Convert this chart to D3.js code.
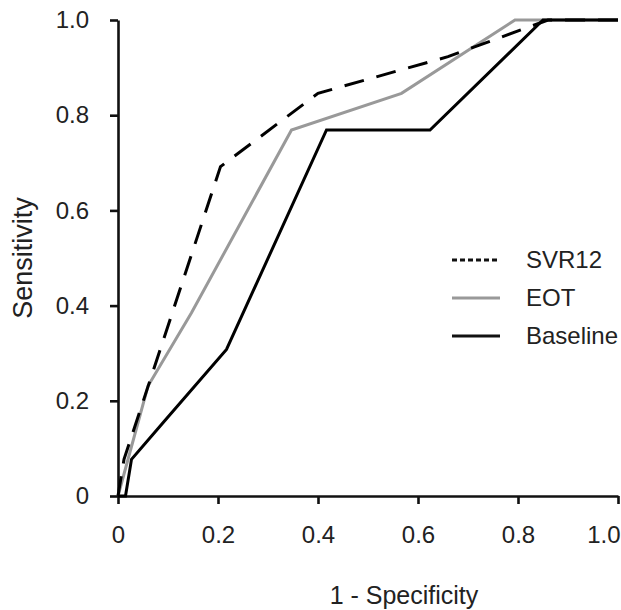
<!DOCTYPE html>
<html>
<head>
<meta charset="utf-8">
<script src="https://cdn.jsdelivr.net/npm/d3@7"></script>
<style>
  html, body { margin: 0; padding: 0; background: #fff; }
  svg { display: block; }
  text { font-family: "Liberation Sans", Arial, sans-serif; fill: #222; }
</style>
</head>
<body>
<svg id="chart" width="621" height="610"></svg>
<script>
// ---- data ----
const xTicks = [0, 0.2, 0.4, 0.6, 0.8, 1.0];
const yTicks = [0, 0.2, 0.4, 0.6, 0.8, 1.0];
const tickLabels = ["0", "0.2", "0.4", "0.6", "0.8", "1.0"];

const svrFpr = [0, 0.012, 0.205, 0.40, 0.66, 0.86, 1.0];
const svrTpr = [0, 0.077, 0.692, 0.846, 0.923, 1.0, 1.0];

const eotFpr = [0, 0.06, 0.147, 0.347, 0.567, 0.794, 1.0];
const eotTpr = [0, 0.231, 0.385, 0.769, 0.846, 1.0, 1.0];

const baseFpr = [0, 0.015, 0.027, 0.09, 0.217, 0.417, 0.624, 0.85, 1.0];
const baseTpr = [0, 0, 0.077, 0.154, 0.308, 0.769, 0.769, 1.0, 1.0];

const seriesNames = ["SVR12", "EOT", "Baseline"];

// ---- layout ----
const svg = d3.select("#chart");
const x = d3.scaleLinear().domain([0, 1]).range([118, 618]);
const y = d3.scaleLinear().domain([0, 1]).range([496, 20]);
const fmt = v => tickLabels[xTicks.indexOf(v)];

// axes
const gx = svg.append("g").attr("transform", "translate(0,496)")
  .call(d3.axisBottom(x).tickValues(xTicks).tickFormat(fmt).tickSize(8).tickPadding(22).tickSizeOuter(0));
const gy = svg.append("g").attr("transform", "translate(118,0)")
  .call(d3.axisLeft(y).tickValues(yTicks).tickFormat(fmt).tickSize(8).tickPadding(21).tickSizeOuter(0));

[gx, gy].forEach(g => {
  g.select(".domain").attr("stroke", "#111").attr("stroke-width", 2.6);
  g.selectAll(".tick line").attr("stroke", "#111").attr("stroke-width", 2.6);
  g.selectAll(".tick text").attr("font-size", 24).attr("fill", "#222")
    .style("font-family", "'Liberation Sans', Arial, sans-serif");
});
// keep last x label inside the picture
gx.selectAll(".tick text").each(function () {
  const t = d3.select(this);
  const w = this.getComputedTextLength();
  const tx = x(d3.select(this.parentNode).datum());
  if (tx + w / 2 > 620) t.attr("x", 620 - w / 2 - tx);
});

// axis titles
svg.append("text").attr("x", 404).attr("y", 604).attr("text-anchor", "middle")
  .attr("font-size", 25).text("1 - Specificity");
svg.append("text").attr("transform", "translate(32,258) rotate(-90)")
  .attr("text-anchor", "middle").attr("font-size", 27).text("Sensitivity");

// lines
const line = d3.line().x(d => x(d[0])).y(d => y(d[1]));
const zip = (a, b) => a.map((v, i) => [v, b[i]]);

svg.append("path").datum(zip(eotFpr, eotTpr)).attr("d", line)
  .attr("fill", "none").attr("stroke", "#999").attr("stroke-width", 3).attr("stroke-linejoin", "miter");
svg.append("path").datum(zip(svrFpr, svrTpr)).attr("d", line)
  .attr("fill", "none").attr("stroke", "#000").attr("stroke-width", 3).attr("stroke-dasharray", "20,13");
svg.append("path").datum(zip(baseFpr, baseTpr)).attr("d", line)
  .attr("fill", "none").attr("stroke", "#000").attr("stroke-width", 3).attr("stroke-linejoin", "miter");

// legend
const legendStyles = [
  { stroke: "#111", dash: "5,3" },
  { stroke: "#999", dash: null },
  { stroke: "#111", dash: null }
];
const lg = svg.append("g");
seriesNames.forEach((name, i) => {
  const ly = 260 + i * 38;
  lg.append("line").attr("x1", 452).attr("x2", 500).attr("y1", ly).attr("y2", ly)
    .attr("stroke", legendStyles[i].stroke).attr("stroke-width", 3)
    .attr("stroke-dasharray", legendStyles[i].dash);
  lg.append("text").attr("x", 526).attr("y", ly).attr("dy", "0.35em")
    .attr("font-size", 24).text(name);
});
</script>
</body>
</html>
